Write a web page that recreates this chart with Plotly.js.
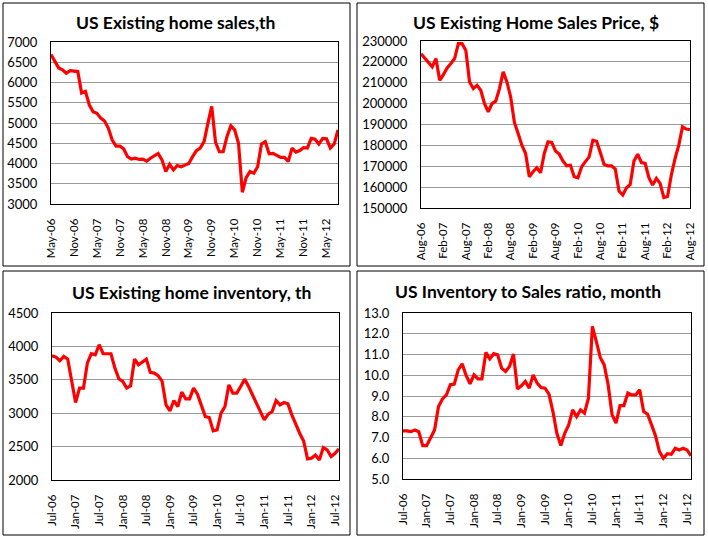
<!DOCTYPE html>
<html>
<head>
<meta charset="utf-8">
<script src="https://cdn.plot.ly/plotly-3.0.1.min.js"></script>
<style>
  html, body { margin: 0; padding: 0; background: #ffffff; }
  #chart { width: 708px; height: 538px; }
</style>
</head>
<body>
<div id="chart"></div>
<script>
// ---- Data ----
const months = [
  "May-06","Jun-06","Jul-06","Aug-06","Sep-06","Oct-06","Nov-06","Dec-06",
  "Jan-07","Feb-07","Mar-07","Apr-07","May-07","Jun-07","Jul-07","Aug-07","Sep-07","Oct-07","Nov-07","Dec-07",
  "Jan-08","Feb-08","Mar-08","Apr-08","May-08","Jun-08","Jul-08","Aug-08","Sep-08","Oct-08","Nov-08","Dec-08",
  "Jan-09","Feb-09","Mar-09","Apr-09","May-09","Jun-09","Jul-09","Aug-09","Sep-09","Oct-09","Nov-09","Dec-09",
  "Jan-10","Feb-10","Mar-10","Apr-10","May-10","Jun-10","Jul-10","Aug-10","Sep-10","Oct-10","Nov-10","Dec-10",
  "Jan-11","Feb-11","Mar-11","Apr-11","May-11","Jun-11","Jul-11","Aug-11","Sep-11","Oct-11","Nov-11","Dec-11",
  "Jan-12","Feb-12","Mar-12","Apr-12","May-12","Jun-12","Jul-12","Aug-12"
];
const salesMonths = months;             // May-06 .. Aug-12
const priceMonths = months.slice(3);    // Aug-06 .. Aug-12
const inventoryMonths = months.slice(2);// Jul-06 .. Aug-12
const ratioMonths = months.slice(2);    // Jul-06 .. Aug-12

const salesTicks = ["May-06","Nov-06","May-07","Nov-07","May-08","Nov-08","May-09","Nov-09","May-10","Nov-10","May-11","Nov-11","May-12"];
const priceTicks = ["Aug-06","Feb-07","Aug-07","Feb-08","Aug-08","Feb-09","Aug-09","Feb-10","Aug-10","Feb-11","Aug-11","Feb-12","Aug-12"];
const inventoryTicks = ["Jul-06","Jan-07","Jul-07","Jan-08","Jul-08","Jan-09","Jul-09","Jan-10","Jul-10","Jan-11","Jul-11","Jan-12","Jul-12"];
const ratioTicks = inventoryTicks;

const salesValues = [
  6690, 6520, 6360, 6315, 6230, 6290, 6270, 6270, 5740, 5780,
  5450, 5280, 5240, 5120, 5050, 4870, 4580, 4430, 4430, 4360,
  4170, 4110, 4130, 4100, 4110, 4060, 4130, 4200, 4250, 4090,
  3800, 3980, 3840, 3950, 3920, 3960, 4000, 4170, 4320, 4380,
  4540, 4990, 5410, 4520, 4290, 4290, 4670, 4930, 4830, 4500,
  3290, 3650, 3800, 3760, 3920, 4480, 4540, 4240, 4250, 4200,
  4150, 4150, 4050, 4380, 4280, 4320, 4390, 4380, 4620, 4600,
  4480, 4620, 4610, 4380, 4480, 4830
];
const priceValues = [
  223900, 221900, 219600, 217600, 221600, 211200, 213900, 217100, 219200, 221600,
  228700, 228700, 225500, 210400, 207200, 208800, 206400, 200000, 196100, 200000,
  201200, 207200, 215200, 210400, 203200, 191000, 185700, 180100, 176100, 165000,
  167400, 169300, 166900, 176100, 181700, 181400, 177300, 175800, 172500, 170200,
  170500, 165000, 164500, 169800, 172200, 174500, 182500, 182000, 176600, 170900,
  170200, 170200, 168600, 158100, 156200, 159700, 161300, 172500, 175800, 171800,
  171400, 164500, 161000, 164200, 161800, 155000, 155500, 165800, 173700, 180100,
  188900, 187800, 187500
];
const inventoryValues = [
  3860, 3840, 3785, 3850, 3810, 3475, 3160, 3375, 3375, 3750,
  3890, 3875, 4025, 3890, 3890, 3890, 3675, 3515, 3475, 3375,
  3410, 3810, 3725, 3770, 3810, 3610, 3600, 3560, 3480, 3125,
  3035, 3190, 3100, 3315, 3215, 3215, 3375, 3285, 3100, 2950,
  2935, 2735, 2750, 3000, 3100, 3425, 3300, 3300, 3400, 3510,
  3400, 3275, 3135, 3015, 2900, 2985, 3025, 3190, 3125, 3160,
  3140, 2975, 2825, 2700, 2585, 2315, 2325, 2375, 2300, 2485,
  2450, 2350, 2400, 2465
];
const ratioValues = [
  7.32, 7.32, 7.28, 7.36, 7.28, 6.61, 6.61, 6.99, 7.36, 8.49,
  8.86, 9.05, 9.54, 9.57, 10.26, 10.55, 9.99, 9.59, 10.02, 9.83,
  9.83, 11.10, 10.79, 11.04, 10.99, 10.34, 10.18, 10.42, 11.02, 9.34,
  9.49, 9.70, 9.38, 10.02, 9.62, 9.41, 9.38, 9.09, 8.25, 7.20,
  6.61, 7.20, 7.61, 8.33, 8.01, 8.33, 8.17, 8.89, 12.36, 11.63,
  10.86, 10.50, 9.54, 8.09, 7.69, 8.54, 8.54, 9.14, 9.05, 9.05,
  9.30, 8.25, 8.12, 7.61, 7.09, 6.32, 6.00, 6.22, 6.19, 6.48,
  6.40, 6.48, 6.40, 6.12
];

const titles = [
  "US Existing home sales,th",
  "US Existing Home Sales Price, $",
  "US Existing home inventory, th",
  "US Inventory to Sales ratio, month"
];

// ---- Layout helpers (pixel geometry of the 708x538 canvas) ----
const W = 708, H = 538;
const px = v => v / W;
const py = v => 1 - v / H;
const FONT = "Lato, 'Open Sans', sans-serif";

function xAxis(l, r, cats, ticks, anchor) {
  return {
    domain: [px(l), px(r)], anchor: anchor, type: "category",
    categoryorder: "array", categoryarray: cats,
    range: [0, cats.length - 1],
    tickmode: "array", tickvals: ticks, ticktext: ticks, tickangle: -90,
    showline: true, mirror: true, linecolor: "#000", linewidth: 1,
    showgrid: false, zeroline: false,
    ticks: "outside", ticklen: 9, tickcolor: "rgba(0,0,0,0)",
    tickfont: { family: FONT, size: 11.5, color: "#000" }, fixedrange: true
  };
}
function yAxis(t, b, lo, hi, step, fmt, anchor) {
  return {
    domain: [py(b), py(t)], anchor: anchor,
    range: [lo, hi], tick0: lo, dtick: step, tickformat: fmt,
    showline: true, mirror: true, linecolor: "#000", linewidth: 1,
    showgrid: true, gridcolor: "#9a9a9a", gridwidth: 1, zeroline: false,
    ticks: "outside", ticklen: 10, tickcolor: "rgba(0,0,0,0)",
    tickfont: { family: FONT, size: 13, color: "#000" }, fixedrange: true
  };
}
function lineTrace(x, y, xa, ya) {
  return { type: "scatter", mode: "lines", x: x, y: y, xaxis: xa, yaxis: ya,
           line: { color: "#ff0000", width: 3.2 }, hoverinfo: "skip", showlegend: false };
}
function frame(l, t, r, b) {
  return { type: "rect", xref: "paper", yref: "paper", x0: px(l), x1: px(r), y0: py(b), y1: py(t),
           line: { color: "#000", width: 1 }, fillcolor: "rgba(0,0,0,0)", layer: "below" };
}
function titleAnn(text, cx, cy) {
  return { text: "<b>" + text + "</b>", xref: "paper", yref: "paper", x: px(cx), y: py(cy),
           xanchor: "center", yanchor: "middle", showarrow: false,
           font: { family: FONT, size: 17.5, color: "#000" } };
}

const data = [
  lineTrace(salesMonths, salesValues, "x", "y"),
  lineTrace(priceMonths, priceValues, "x2", "y2"),
  lineTrace(inventoryMonths, inventoryValues, "x3", "y3"),
  lineTrace(ratioMonths, ratioValues, "x4", "y4")
];

const layout = {
  width: W, height: H, margin: { l: 0, r: 0, t: 0, b: 0 },
  paper_bgcolor: "#ffffff", plot_bgcolor: "#ffffff", showlegend: false,
  xaxis:  xAxis(51, 338, salesMonths, salesTicks, "y"),
  yaxis:  yAxis(42, 204, 3000, 7000, 500, "d", "x"),
  xaxis2: xAxis(421, 690, priceMonths, priceTicks, "y2"),
  yaxis2: yAxis(41, 208, 150000, 230000, 10000, "d", "x2"),
  xaxis3: xAxis(52, 339, inventoryMonths, inventoryTicks, "y3"),
  yaxis3: yAxis(313, 480, 2000, 4500, 500, "d", "x3"),
  xaxis4: xAxis(403, 691, ratioMonths, ratioTicks, "y4"),
  yaxis4: yAxis(313, 479, 5, 13, 1, ".1f", "x4"),
  shapes: [
    frame(3, 3, 350, 266), frame(357, 3, 704, 266),
    frame(3, 271, 350, 535), frame(357, 271, 704, 535)
  ],
  annotations: [
    titleAnn(titles[0], 175, 23),
    titleAnn(titles[1], 536, 23),
    titleAnn(titles[2], 191, 292),
    titleAnn(titles[3], 528, 291)
  ]
};

Plotly.newPlot("chart", data, layout, { displayModeBar: false, staticPlot: true });
</script>
</body>
</html>
